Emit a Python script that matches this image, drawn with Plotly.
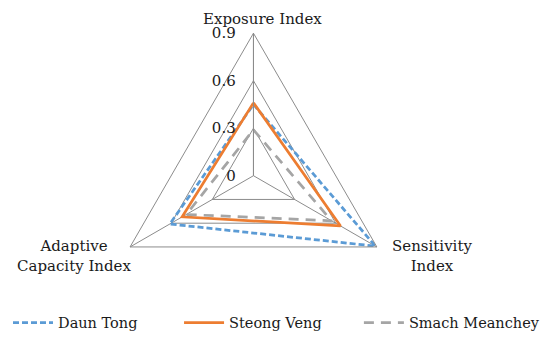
import plotly.graph_objects as go

categories = ["Exposure Index", "Sensitivity Index", "Adaptive Capacity Index"]
category_labels = ["Exposure Index", "Sensitivity<br>Index", "Adaptive<br>Capacity Index"]
daun_tong = [0.45, 0.89, 0.61]
steong_veng = [0.46, 0.635, 0.52]
smach_meanchey = [0.29, 0.57, 0.49]
tick_vals = [0, 0.3, 0.6, 0.9]
tick_text = ["0", "0.3", "0.6", "0.9"]

FONT = "DejaVu Serif"
TXT = "#1a1a1a"

fig = go.Figure()
series = [
    ("Daun Tong", daun_tong, "#5B9BD5", "6px,3px", "legend"),
    ("Steong Veng", steong_veng, "#ED7D31", "solid", "legend2"),
    ("Smach Meanchey", smach_meanchey, "#A5A5A5", "10px,7px", "legend3"),
]
for name, vals, color, dash, leg in series:
    fig.add_trace(go.Scatterpolar(
        r=vals + vals[:1],
        theta=categories + categories[:1],
        mode="lines",
        name=name,
        legend=leg,
        showlegend=True,
        line=dict(color=color, width=2.75, dash=dash),
    ))

# category labels placed around the chart
label_pos = [(0.4636, 0.9676, "center"), (0.7718, 0.2684, "center"), (0.12, 0.2684, "center")]
for text, (x, y, anchor) in zip(category_labels, label_pos):
    fig.add_annotation(
        text=text, x=x, y=y, xref="paper", yref="paper",
        xanchor=anchor, yanchor="middle", align="center", showarrow=False,
        font=dict(family=FONT, size=15, color=TXT),
    )

legend_common = dict(
    orientation="h", xanchor="left", y=0.072, yanchor="middle",
    font=dict(family=FONT, size=14.5, color=TXT),
    bgcolor="rgba(0,0,0,0)", itemwidth=40, visible=True,
)

fig.update_layout(
    width=550, height=339,
    showlegend=True,
    margin=dict(l=0, r=0, t=0, b=0, autoexpand=False),
    paper_bgcolor="white",
    font=dict(family=FONT, size=15, color=TXT),
    polar=dict(
        domain=dict(x=[0.1872, 0.7054], y=[0.085, 0.9256]),
        bgcolor="white",
        gridshape="linear",
        radialaxis=dict(
            range=[0, 0.9], tickvals=tick_vals, ticktext=tick_text,
            angle=90, tickangle=90, side="counterclockwise",
            showline=True, linecolor="#8c8c8c", linewidth=1,
            gridcolor="#8c8c8c", gridwidth=1,
            ticks="outside", ticklen=12, tickcolor="rgba(0,0,0,0)",
            tickfont=dict(family=FONT, size=15, color=TXT),
        ),
        angularaxis=dict(
            rotation=90, direction="clockwise",
            showline=True, linecolor="#8c8c8c", linewidth=1,
            gridcolor="#8c8c8c", gridwidth=1, ticks="",
            showticklabels=False,
        ),
    ),
    legend=dict(x=0.0, **legend_common),
    legend2=dict(x=0.311, **legend_common),
    legend3=dict(x=0.638, **legend_common),
)

fig.write_html("out.html")
